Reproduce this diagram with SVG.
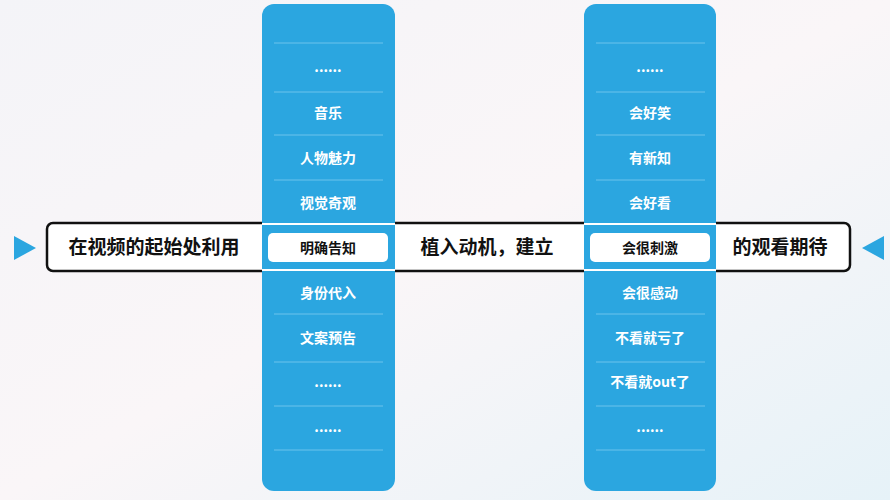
<svg xmlns="http://www.w3.org/2000/svg" width="890" height="500" viewBox="0 0 890 500">
<defs>
<linearGradient id="bg" x1="0" y1="0" x2="1" y2="1">
<stop offset="0" stop-color="#f4f4f8"/><stop offset="0.5" stop-color="#faf6f8"/><stop offset="1" stop-color="#e6f2f8"/>
</linearGradient>
<style>
.col{fill:#2ba6e0}
.sep{stroke:#6cc3ec;stroke-width:1}
.it{font-family:"Noto Sans CJK SC","Noto Sans",sans-serif;font-weight:bold;font-size:14px;fill:#fff;text-anchor:middle}
.big{font-family:"Noto Sans CJK SC",sans-serif;font-weight:bold;font-size:19px;fill:#111;text-anchor:middle}
.sel{font-family:"Noto Sans CJK SC",sans-serif;font-weight:bold;font-size:14px;fill:#111;text-anchor:middle}
</style>
</defs>
<rect width="890" height="500" fill="url(#bg)"/>
<g id="bar">
<rect x="47" y="223" width="803" height="48" rx="6" fill="#fff" stroke="#111" stroke-width="2.5"/>
<text class="big" x="154" y="254">在视频的起始处利用</text>
<text class="big" x="487" y="254">植入动机，建立</text>
<text class="big" x="780" y="254">的观看期待</text>
</g>
<g id="arrows">
<path d="M14 236 L36 248 L14 260 Z" fill="#2ba6e0"/>
<path d="M884 236 L862 248 L884 260 Z" fill="#2ba6e0"/>
</g>
<g id="col1">
<rect class="col" x="262" y="4" width="133" height="487" rx="12"/>
<g class="sep">
<line x1="274" y1="43" x2="383" y2="43"/><line x1="274" y1="92" x2="383" y2="92"/><line x1="274" y1="135" x2="383" y2="135"/><line x1="274" y1="180" x2="383" y2="180"/><line x1="274" y1="314" x2="383" y2="314"/><line x1="274" y1="362" x2="383" y2="362"/><line x1="274" y1="406" x2="383" y2="406"/><line x1="274" y1="450" x2="383" y2="450"/>
</g>
<line x1="262" y1="224" x2="395" y2="224" stroke="#fff" stroke-width="2"/>
<line x1="262" y1="270" x2="395" y2="270" stroke="#fff" stroke-width="2"/>
<rect x="268" y="233" width="120" height="29" rx="5" fill="#fff"/>
<text class="it" x="328" y="72">......</text>
<text class="it" x="328" y="118">音乐</text>
<text class="it" x="328" y="163">人物魅力</text>
<text class="it" x="328" y="208">视觉奇观</text>
<text class="sel" x="328" y="253">明确告知</text>
<text class="it" x="328" y="298">身份代入</text>
<text class="it" x="328" y="343">文案预告</text>
<text class="it" x="328" y="387">......</text>
<text class="it" x="328" y="432">......</text>
</g>
<g id="col2">
<rect class="col" x="584" y="4" width="132" height="487" rx="12"/>
<g class="sep">
<line x1="596" y1="43" x2="705" y2="43"/><line x1="596" y1="92" x2="705" y2="92"/><line x1="596" y1="135" x2="705" y2="135"/><line x1="596" y1="180" x2="705" y2="180"/><line x1="596" y1="314" x2="705" y2="314"/><line x1="596" y1="362" x2="705" y2="362"/><line x1="596" y1="406" x2="705" y2="406"/><line x1="596" y1="450" x2="705" y2="450"/>
</g>
<line x1="584" y1="224" x2="716" y2="224" stroke="#fff" stroke-width="2"/>
<line x1="584" y1="270" x2="716" y2="270" stroke="#fff" stroke-width="2"/>
<rect x="590" y="233" width="120" height="29" rx="5" fill="#fff"/>
<text class="it" x="650" y="72">......</text>
<text class="it" x="650" y="118">会好笑</text>
<text class="it" x="650" y="163">有新知</text>
<text class="it" x="650" y="208">会好看</text>
<text class="sel" x="650" y="253">会很刺激</text>
<text class="it" x="650" y="298">会很感动</text>
<text class="it" x="650" y="343">不看就亏了</text>
<text class="it" x="650" y="387">不看就out了</text>
<text class="it" x="650" y="432">......</text>
</g>
</svg>
